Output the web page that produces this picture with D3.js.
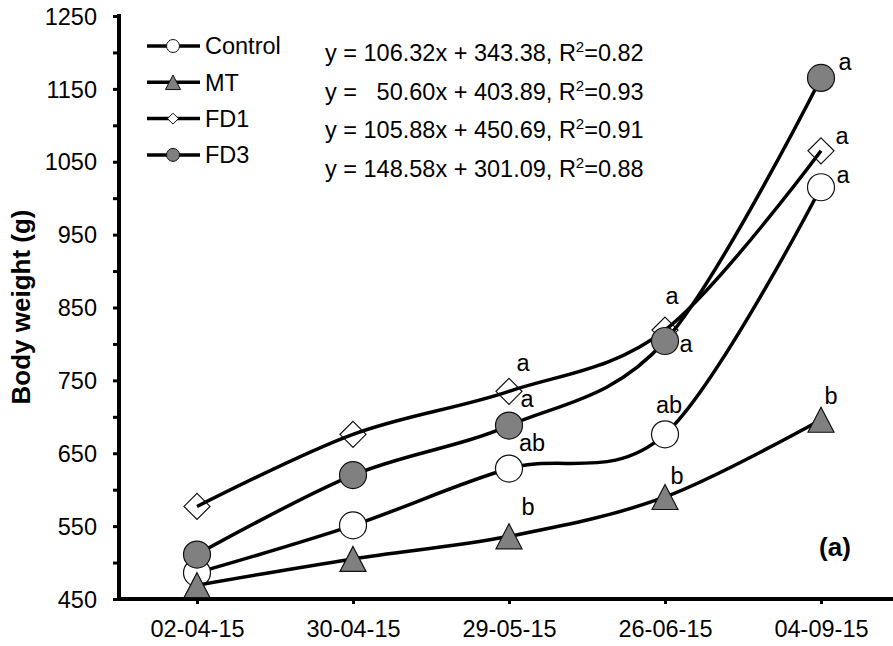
<!DOCTYPE html>
<html>
<head>
<meta charset="utf-8">
<script src="https://cdn.jsdelivr.net/npm/d3@7"></script>
<style>
body{margin:0;background:#fff}
text{font-family:"Liberation Sans",Arial,sans-serif;fill:#000}
</style>
</head>
<body>
<svg id="canvas" width="893" height="646"></svg>
<script>
// data
const dates = ["02-04-15", "30-04-15", "29-05-15", "26-06-15", "04-09-15"]
const seriesNames = ["Control", "MT", "FD1", "FD3"]
const control = [486, 551, 629, 676, 1015]
const mt = [469, 505, 536, 590, 696]
const fd1 = [577, 676, 735, 819, 1065]
const fd3 = [511, 620, 688, 804, 1165]
const controlSig = ["", "", "ab", "ab", "a"]
const mtSig = ["", "", "b", "b", "b"]
const fd1Sig = ["", "", "a", "a", "a"]
const fd3Sig = ["", "", "a", "a", "a"]
const equations = ["y = 106.32x + 343.38, R", "y =   50.60x + 403.89, R", "y = 105.88x + 450.69, R", "y = 148.58x + 301.09, R"]
const r2 = ["=0.82", "=0.93", "=0.91", "=0.88"]
const yTicks = d3.range(450, 1251, 50)

// layout
const fs = 23.5
const svg = d3.select("#canvas")
const x = d3.scalePoint().domain(dates).range([119, 899]).padding(0.5)
const y = d3.scaleLinear().domain([450, 1250]).range([599, 16])

// letter offsets from each point (dx, dy to baseline)
const sigOffsets = [
        [[0, 0], [0, 0], [23, -18], [4, -21], [22, -4]],
        [[0, 0], [0, 0], [19, -21], [12, -13], [10, -16]],
        [[0, 0], [0, 0], [14, -20], [7, -26], [21, -7]],
        [[0, 0], [0, 0], [18, -19], [21, 11], [24, -8]]
]

const series = [
        {name: seriesNames[0], values: control, sig: controlSig, shape: "circle", fill: "#fff"},
        {name: seriesNames[1], values: mt, sig: mtSig, shape: "triangle", fill: "#808080"},
        {name: seriesNames[2], values: fd1, sig: fd1Sig, shape: "diamond", fill: "none"},
        {name: seriesNames[3], values: fd3, sig: fd3Sig, shape: "circle", fill: "#808080"}
]

function markerPath(shape, s){
        if (shape == "triangle") {
                const w = 26*s, h = 25*s
                return "M0," + (-h/2) + "L" + (w/2) + "," + (h/2) + "L" + (-w/2) + "," + (h/2) + "Z"
        }
        if (shape == "diamond") {
                const d = 13*s
                return "M0," + (-d) + "L" + d + ",0L0," + d + "L" + (-d) + ",0Z"
        }
        const r = 13.5*s
        return "M" + r + ",0A" + r + "," + r + " 0 1,1 " + (-r) + ",0A" + r + "," + r + " 0 1,1 " + r + ",0Z"
}

// y axis
const yAxis = svg.append("g").attr("transform", "translate(119,0)")
        .call(d3.axisLeft(y).tickValues(yTicks).tickSize(6).tickPadding(16)
                .tickFormat(d => d % 100 == 50 ? d : ""))
yAxis.select(".domain").remove()
yAxis.selectAll("line").attr("stroke", "#000").attr("stroke-width", 3)
yAxis.selectAll("text").style("font-size", fs + "px").attr("dy", "0.35em")

// x axis
const xAxis = svg.append("g").attr("transform", "translate(0,599)")
        .call(d3.axisBottom(x).tickSize(5).tickPadding(16))
xAxis.select(".domain").remove()
xAxis.selectAll("line").attr("stroke", "#000").attr("stroke-width", 3)
xAxis.selectAll("text").style("font-size", fs + "px")

svg.append("line").attr("x1", 119).attr("x2", 119).attr("y1", 14).attr("y2", 601)
        .attr("stroke", "#000").attr("stroke-width", 4)
svg.append("line").attr("x1", 117).attr("x2", 893).attr("y1", 599).attr("y2", 599)
        .attr("stroke", "#000").attr("stroke-width", 4)

svg.append("text")
        .attr("transform", "translate(30,307) rotate(-90)")
        .attr("text-anchor", "middle")
        .style("font-size", "26px").style("font-weight", "bold")
        .text("Body weight (g)")

// series
const line = d3.line().x((d, i) => x(dates[i])).y(d => y(d)).curve(d3.curveCardinal.tension(0))
series.forEach((s, k) => {
        svg.append("path").attr("d", line(s.values))
                .attr("fill", "none").attr("stroke", "#000").attr("stroke-width", 3.5)
        svg.selectAll(null).data(s.values).enter().append("path")
                .attr("transform", (d, i) => "translate(" + x(dates[i]) + "," + y(d) + ")")
                .attr("d", markerPath(s.shape, 1))
                .attr("fill", s.fill).attr("stroke", "#111").attr("stroke-width", 1.2)
})
series.forEach((s, k) => {
        svg.selectAll(null).data(s.values).enter().append("text")
                .attr("x", (d, i) => x(dates[i]) + sigOffsets[k][i][0])
                .attr("y", (d, i) => y(d) + sigOffsets[k][i][1])
                .attr("text-anchor", "middle")
                .style("font-size", fs + "px")
                .text((d, i) => s.sig[i])
})

// legend
series.forEach((s, k) => {
        const ly = 46 + k*36.3
        const g = svg.append("g")
        g.append("line").attr("x1", 147).attr("x2", 200).attr("y1", ly).attr("y2", ly)
                .attr("stroke", "#000").attr("stroke-width", 3.5)
        g.append("path").attr("transform", "translate(173," + ly + ")")
                .attr("d", markerPath(s.shape, s.shape == "diamond" ? 0.42 : (s.shape == "triangle" ? 0.58 : 0.48)))
                .attr("fill", s.fill == "none" ? "#fff" : s.fill).attr("stroke", "#111").attr("stroke-width", 1)
        g.append("text").attr("x", 205).attr("y", ly + 8.4)
                .style("font-size", fs + "px").text(s.name)
})

// regression equations
equations.forEach((e, k) => {
        const t = svg.append("text").attr("x", 325).attr("y", 61 + k*38.5)
                .style("font-size", fs + "px").style("white-space", "pre")
        t.append("tspan").text(e)
        t.append("tspan").attr("dy", -9).style("font-size", "15px").text("2")
        t.append("tspan").attr("dy", 9).text(r2[k])
})

svg.append("text").attr("x", 835).attr("y", 556).attr("text-anchor", "middle")
        .style("font-size", "26px").style("font-weight", "bold").text("(a)")
</script>
</body>
</html>
